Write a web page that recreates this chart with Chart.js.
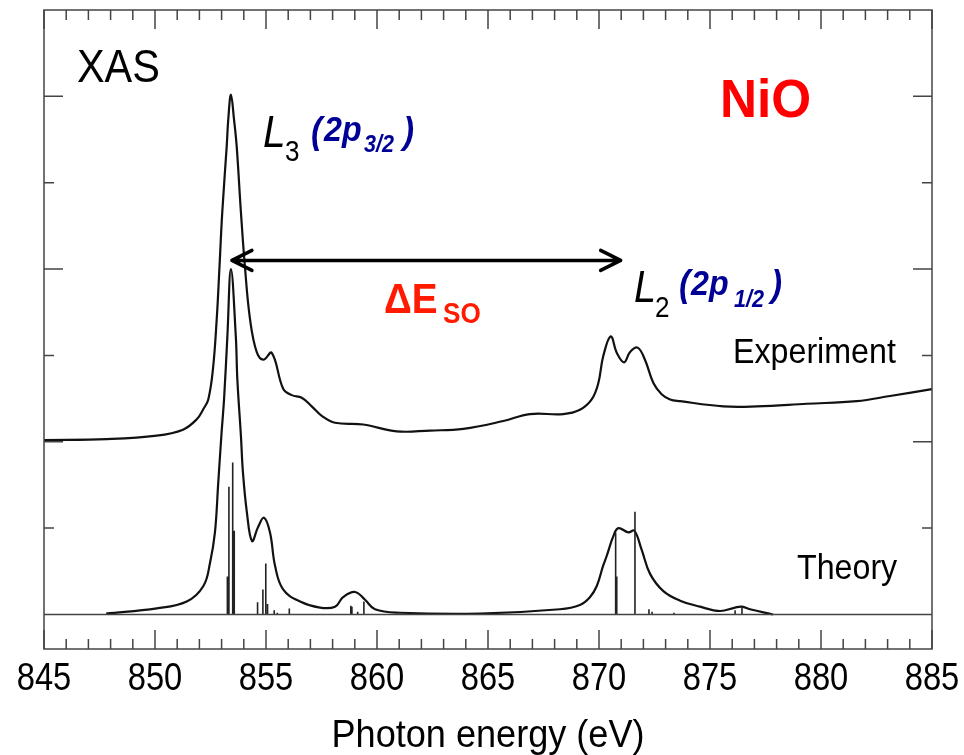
<!DOCTYPE html>
<html>
<head>
<meta charset="utf-8">
<title>NiO XAS</title>
<script src="https://cdn.jsdelivr.net/npm/chart.js@4.4.0/dist/chart.umd.min.js"></script>
<style>
    html, body { margin: 0; padding: 0; background: #fff; }
    #wrap { width: 964px; height: 755px; }
</style>
</head>
<body>
<div id="wrap"><canvas id="xasChart" width="964" height="755"></canvas></div>
<script>
// 实验谱 (Experiment)
const expEnergy = [845.00, 847.82, 850.08, 851.26, 851.88, 852.18, 852.40, 852.61, 852.78, 852.90,
    853.03, 853.23, 853.30, 853.42, 853.56, 853.68, 853.87, 854.05, 854.28, 854.58,
    854.88, 855.26, 855.78, 856.16, 856.61, 857.06, 857.51, 858.11, 859.38, 860.89,
    862.39, 863.89, 865.69, 866.89, 868.39, 869.14, 869.67, 869.97, 870.19, 870.53,
    870.80, 871.13, 871.40, 871.74, 872.07, 872.45, 872.82, 873.20, 873.65, 875.60,
    877.10, 879.36, 881.61, 883.11, 885.00];
const expIntensity = [2.02, 2.03, 2.07, 2.14, 2.26, 2.38, 2.49, 2.84, 3.42, 4.00,
    4.66, 5.42, 5.73, 6.02, 5.73, 5.42, 4.66, 4.03, 3.42, 3.04,
    2.95, 3.03, 2.61, 2.54, 2.51, 2.41, 2.30, 2.22, 2.20, 2.12,
    2.13, 2.15, 2.24, 2.32, 2.32, 2.37, 2.49, 2.68, 2.99, 3.22,
    3.03, 2.92, 3.04, 3.09, 2.95, 2.68, 2.55, 2.49, 2.47, 2.41,
    2.41, 2.44, 2.47, 2.53, 2.61];

// 理论谱 (Theory)
const theoEnergy = [847.80, 850.08, 851.43, 852.18, 852.48, 852.70, 852.85, 853.00, 853.11, 853.26,
    853.42, 853.64, 853.71, 853.87, 853.96, 854.14, 854.37, 854.64, 854.91, 855.18,
    855.41, 855.77, 856.53, 857.43, 858.11, 858.47, 859.01, 859.46, 859.91, 861.04,
    864.64, 868.24, 869.14, 869.59, 869.90, 870.18, 870.35, 870.65, 870.87, 871.32,
    871.59, 871.92, 872.30, 872.90, 873.65, 874.55, 875.45, 876.13, 876.44, 876.80,
    877.84];
const theoIntensity = [0.01, 0.07, 0.15, 0.33, 0.60, 0.95, 1.53, 2.11, 2.49, 3.22,
    4.00, 3.22, 2.72, 2.07, 1.65, 1.18, 0.85, 1.01, 1.12, 0.95,
    0.56, 0.29, 0.15, 0.08, 0.09, 0.20, 0.26, 0.17, 0.06, 0.02,
    0.01, 0.06, 0.11, 0.20, 0.33, 0.56, 0.68, 0.91, 1.00, 0.95,
    0.97, 0.75, 0.47, 0.27, 0.16, 0.09, 0.04, 0.08, 0.09, 0.06,
    0.00];

// 跃迁棒线 (sticks)
const stickEnergy = [853.26, 853.33, 853.50, 853.57, 854.62, 854.86, 854.99, 855.07, 855.37, 855.51,
    856.05, 858.82, 858.87, 859.13, 859.41, 870.75, 870.80, 871.62, 872.25, 872.39,
    873.38, 876.13, 876.44];
const stickHeight = [0.44, 1.48, 1.76, 0.97, 0.14, 0.29, 0.59, 0.12, 0.05, 0.02,
    0.07, 0.10, 0.09, 0.03, 0.15, 0.95, 0.44, 1.19, 0.06, 0.03,
    0.02, 0.05, 0.09];

// ΔE_SO 箭头
const arrowEnergy = [853.42, 871.02];
const arrowLevel = 4.10;

// 刻度
const xMajorTicks = [845, 850, 855, 860, 865, 870, 875, 880, 885];
const xMinorStep = 1;
const yTicks = [1, 2, 3, 4, 5, 6];
const yMajorTicks = [2, 4, 6];

const FONT = '"Liberation Sans", Arial, sans-serif';
const FRAME = '#444';

function toXY(xs, ys) {
    return xs.map((x, i) => ({ x: x, y: ys[i] }));
}

function stickData() {
    const pts = [];
    stickEnergy.forEach((e, i) => {
        pts.push({ x: e, y: 0 }, { x: e, y: stickHeight[i] }, { x: e, y: null });
    });
    return pts;
}

// 压缩文字绘制
function drawText(ctx, str, x, y, font, color, sx, align) {
    ctx.save();
    ctx.font = font;
    ctx.fillStyle = color;
    ctx.textBaseline = 'alphabetic';
    ctx.translate(x, y);
    ctx.scale(sx, 1);
    const w = ctx.measureText(str).width;
    ctx.fillText(str, align === 'center' ? -w / 2 : 0, 0);
    ctx.restore();
}

const decorPlugin = {
    id: 'xasDecor',
    afterDatasetsDraw(chart) {
        const ctx = chart.ctx;
        const a = chart.chartArea;
        const xs = chart.scales.x;
        const ys = chart.scales.y;

        ctx.save();
        ctx.strokeStyle = FRAME;
        ctx.lineWidth = 1.5;

        // 理论基线
        const y0 = ys.getPixelForValue(0);
        ctx.beginPath();
        ctx.moveTo(a.left, y0);
        ctx.lineTo(a.right, y0);
        ctx.stroke();

        // 边框
        ctx.strokeRect(a.left, a.top, a.right - a.left, a.bottom - a.top);

        // x 刻度 (内侧)
        ctx.beginPath();
        for (let v = xs.min; v <= xs.max + 1e-6; v += xMinorStep) {
            const px = xs.getPixelForValue(v);
            const len = xMajorTicks.includes(Math.round(v)) ? 19 : 10;
            ctx.moveTo(px, a.bottom);
            ctx.lineTo(px, a.bottom - len);
            ctx.moveTo(px, a.top);
            ctx.lineTo(px, a.top + len);
        }
        // y 刻度
        yTicks.forEach(v => {
            const py = ys.getPixelForValue(v);
            const len = yMajorTicks.includes(v) ? 19 : 10;
            ctx.moveTo(a.left, py);
            ctx.lineTo(a.left + len, py);
            ctx.moveTo(a.right, py);
            ctx.lineTo(a.right - len, py);
        });
        ctx.stroke();
        ctx.restore();

        // x 轴标签
        xMajorTicks.forEach(v => {
            drawText(ctx, String(v), xs.getPixelForValue(v), a.bottom + 41,
                '38px ' + FONT, '#000', 0.86, 'center');
        });
        drawText(ctx, 'Photon energy (eV)', (a.left + a.right) / 2, a.bottom + 98,
            '38px ' + FONT, '#000', 0.95, 'center');

        // 箭头
        const ay = ys.getPixelForValue(arrowLevel);
        const ax1 = xs.getPixelForValue(arrowEnergy[0]);
        const ax2 = xs.getPixelForValue(arrowEnergy[1]);
        ctx.save();
        ctx.strokeStyle = '#000';
        ctx.lineWidth = 3.5;
        ctx.lineCap = 'round';
        ctx.lineJoin = 'round';
        ctx.beginPath();
        ctx.moveTo(ax1 + 2, ay);
        ctx.lineTo(ax2 - 2, ay);
        ctx.moveTo(ax1 + 21, ay - 10);
        ctx.lineTo(ax1 + 1, ay);
        ctx.lineTo(ax1 + 21, ay + 10);
        ctx.moveTo(ax2 - 21, ay - 10);
        ctx.lineTo(ax2 - 1, ay);
        ctx.lineTo(ax2 - 21, ay + 10);
        ctx.stroke();
        ctx.restore();

        // 注释文字
        drawText(ctx, 'XAS', 77, 82, '46px ' + FONT, '#000', 0.9);
        drawText(ctx, 'NiO', 720, 117, 'bold 54px ' + FONT, '#ff0000', 0.95);

        const blue = '#000096';
        drawText(ctx, 'L', 263, 147, 'italic 45px ' + FONT, '#000', 0.9);
        drawText(ctx, '3', 285, 161, '29px ' + FONT, '#000', 0.9);
        drawText(ctx, '(', 311, 143, 'italic bold 37px ' + FONT, blue, 0.9);
        drawText(ctx, '2p', 324, 141, 'italic bold 35px ' + FONT, blue, 0.92);
        drawText(ctx, '3/2', 364, 152, 'italic bold 24px ' + FONT, blue, 0.9);
        drawText(ctx, ')', 403, 143, 'italic bold 37px ' + FONT, blue, 0.9);

        drawText(ctx, 'L', 634, 302, 'italic 44px ' + FONT, '#000', 0.9);
        drawText(ctx, '2', 655, 317, '29px ' + FONT, '#000', 0.9);
        drawText(ctx, '(', 679, 296, 'italic bold 37px ' + FONT, blue, 0.9);
        drawText(ctx, '2p', 691, 295, 'italic bold 35px ' + FONT, blue, 0.92);
        drawText(ctx, '1/2', 734, 307, 'italic bold 24px ' + FONT, blue, 0.9);
        drawText(ctx, ')', 771, 296, 'italic bold 37px ' + FONT, blue, 0.9);

        drawText(ctx, '\u0394E', 384, 313, 'bold 43px ' + FONT, '#ff1a00', 0.9);
        drawText(ctx, 'SO', 443, 323, 'bold 29px ' + FONT, '#ff1a00', 0.9);

        drawText(ctx, 'Experiment', 733, 363, '35px ' + FONT, '#000', 0.92);
        drawText(ctx, 'Theory', 797, 579, '35px ' + FONT, '#000', 0.92);
    }
};

function initializeXasChart() {
    const ctx = document.getElementById('xasChart');
    if (!ctx) {
        console.error('canvas not found');
        return;
    }
    new Chart(ctx.getContext('2d'), {
        type: 'line',
        data: {
            datasets: [{
                label: 'sticks',
                data: stickData(),
                borderColor: '#222',
                borderWidth: 1.6,
                pointRadius: 0,
                spanGaps: false,
                tension: 0
            }, {
                label: 'Theory',
                data: toXY(theoEnergy, theoIntensity),
                borderColor: '#111',
                borderWidth: 2.2,
                pointRadius: 0,
                tension: 0.4
            }, {
                label: 'Experiment',
                data: toXY(expEnergy, expIntensity),
                borderColor: '#111',
                borderWidth: 2.2,
                pointRadius: 0,
                tension: 0.4
            }]
        },
        options: {
            responsive: false,
            devicePixelRatio: 1,
            animation: false,
            layout: { padding: { left: 44, right: 32, top: 10, bottom: 106 } },
            scales: {
                x: { type: 'linear', min: 845, max: 885, display: false },
                y: { type: 'linear', min: -0.4, max: 7.0, display: false }
            },
            plugins: {
                legend: { display: false },
                tooltip: { enabled: false }
            }
        },
        plugins: [decorPlugin]
    });
}

initializeXasChart();
</script>
</body>
</html>
